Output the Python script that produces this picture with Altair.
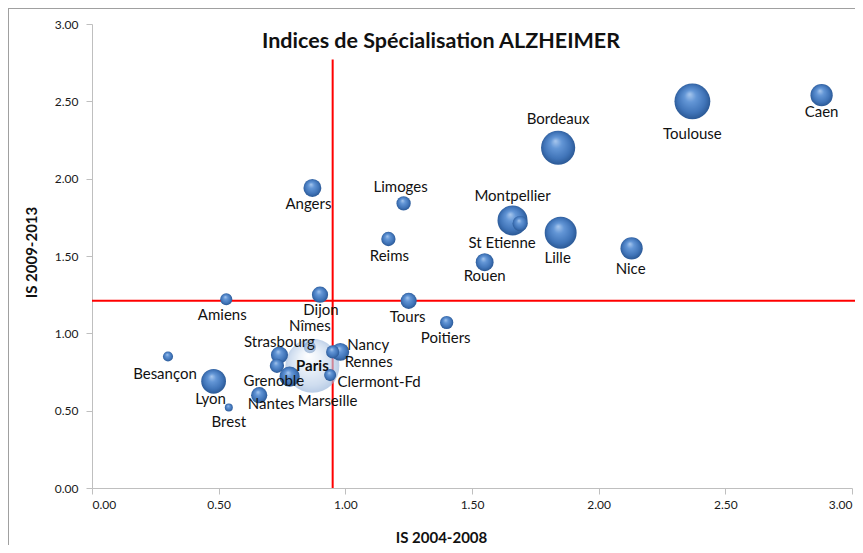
import altair as alt
import pandas as pd

# ---- data ----
cities = ["Caen", "Toulouse", "Bordeaux", "Montpellier", "St Etienne", "Lille", "Nice",
          "Rouen", "Limoges", "Reims", "Angers", "Dijon", "Tours", "Poitiers", "Amiens",
          "Besançon", "Lyon", "Brest", "Nantes", "Nîmes", "Paris", "Strasbourg",
          "Grenoble", "Marseille", "Nancy", "Rennes", "Clermont-Fd"]
is_2004_2008 = [2.88, 2.37, 1.84, 1.66, 1.69, 1.85, 2.13,
                1.55, 1.23, 1.17, 0.87, 0.90, 1.25, 1.40, 0.53,
                0.30, 0.48, 0.54, 0.66, 0.86, 0.87, 0.74,
                0.73, 0.78, 0.98, 0.95, 0.94]
is_2009_2013 = [2.54, 2.50, 2.20, 1.73, 1.71, 1.65, 1.55,
                1.46, 1.84, 1.61, 1.94, 1.25, 1.21, 1.07, 1.22,
                0.85, 0.69, 0.52, 0.60, 0.91, 0.79, 0.86,
                0.79, 0.72, 0.88, 0.88, 0.73]
bubble_size = [17, 44, 40, 31, 8, 35, 17,
               11, 7, 7, 11, 9, 9, 6, 5,
               3.5, 21, 2.2, 9, 5, 100, 10,
               7, 14, 11, 6, 5]

mean_x = 0.95
mean_y = 1.21
vline_top = 2.77
hline_right = 3.04

# label placement (pixel offsets from bubble centre) -- layout only
label_offsets = {
    "Caen": (0, 17), "Toulouse": (0, 33), "Bordeaux": (0, -29), "Montpellier": (0, -24),
    "St Etienne": (-18, 19), "Lille": (-3, 25), "Nice": (-1, 21), "Rouen": (0, 14),
    "Limoges": (-3, -16), "Reims": (1, 17), "Angers": (-4, 16), "Dijon": (1, 15),
    "Tours": (-1, 16), "Poitiers": (-1, 15), "Amiens": (-4, 16), "Besançon": (-3, 17),
    "Lyon": (-3, 18), "Brest": (0, 14), "Nantes": (12, 9), "Nîmes": (0, -21),
    "Paris": (0, 0), "Strasbourg": (0, -13), "Grenoble": (-3, 15), "Marseille": (38, 24),
    "Nancy": (28, -7), "Rennes": (36, 10), "Clermont-Fd": (49, 7),
}

df = pd.DataFrame({"ville": cities, "x": is_2004_2008, "y": is_2009_2013, "taille": bubble_size})
means = pd.DataFrame({"mx": [mean_x], "my": [mean_y], "x0": [0.0], "y0": [0.0],
                      "xt": [hline_right], "yt": [vline_top]})

FONT = "Lato"
W, H = 760, 464

xs = alt.Scale(domain=[0, 3], nice=False, zero=True)
ys = alt.Scale(domain=[0, 3], nice=False, zero=True)
ticks = [0, 0.5, 1, 1.5, 2, 2.5, 3]

x_enc = alt.X("x:Q", scale=xs, axis=alt.Axis(
    values=ticks, format=".2f", title="IS 2004-2008", grid=False,
    titleX=349, titleY=49, titleBaseline="middle", titleAlign="center",
    labelPadding=5, tickSize=6))
y_enc = alt.Y("y:Q", scale=ys, axis=alt.Axis(
    values=ticks, format=".2f", title="IS 2009-2013", grid=False,
    titleX=-61, titleY=228, titleBaseline="middle", titleAlign="center", titleAngle=270,
    labelPadding=8, tickSize=6))
size_enc = alt.Size("taille:Q", scale=alt.Scale(domain=[0, 100], range=[0, 2916]), legend=None)

blue_grad = alt.RadialGradient(
    gradient="radial", x1=0.42, y1=0.3, r1=0.0, x2=0.5, y2=0.5, r2=0.55,
    stops=[alt.GradientStop(color="#a9c8ee", offset=0.0),
           alt.GradientStop(color="#6396d6", offset=0.3),
           alt.GradientStop(color="#4074b8", offset=0.7),
           alt.GradientStop(color="#2c5a97", offset=0.92),
           alt.GradientStop(color="#3d6aa5", offset=1.0)])
paris_grad = alt.RadialGradient(
    gradient="radial", x1=0.42, y1=0.3, r1=0.0, x2=0.5, y2=0.5, r2=0.55,
    stops=[alt.GradientStop(color="#ffffff", offset=0.0),
           alt.GradientStop(color="#e0eaf6", offset=0.35),
           alt.GradientStop(color="#b4cae6", offset=0.75),
           alt.GradientStop(color="#88a8d3", offset=1.0)])

base = alt.Chart(df)
behind = ["Nîmes"]

bub_behind = base.transform_filter(alt.FieldOneOfPredicate(field="ville", oneOf=behind)).mark_circle(
    fill=blue_grad, opacity=1).encode(x=x_enc, y=y_enc, size=size_enc)
bub_paris = base.transform_filter(alt.datum.ville == "Paris").mark_circle(
    fill=paris_grad, opacity=0.65).encode(x=x_enc, y=y_enc, size=size_enc)
bub_rest = base.transform_filter(
    (alt.datum.ville != "Paris") & (alt.datum.ville != "Nîmes")).mark_circle(
    fill=blue_grad, opacity=1).encode(x=x_enc, y=y_enc, size=size_enc)

vline = alt.Chart(means).mark_rule(color="#ff0000", strokeWidth=2).encode(
    x=alt.X("mx:Q", scale=xs), y=alt.Y("y0:Q", scale=ys), y2="yt:Q")
hline = alt.Chart(means).mark_rule(color="#ff0000", strokeWidth=2).encode(
    y=alt.Y("my:Q", scale=ys), x=alt.X("x0:Q", scale=xs), x2="xt:Q")

labels = []
for c in cities:
    dx, dy = label_offsets[c]
    labels.append(base.transform_filter(alt.datum.ville == c).mark_text(
        dx=dx, dy=dy, font=FONT, fontSize=15, color="#111111",
        fontWeight="bold" if c == "Paris" else "normal",
        align="center", baseline="middle").encode(
        x=alt.X("x:Q", scale=xs), y=alt.Y("y:Q", scale=ys), text="ville:N"))

title = alt.Chart(means).mark_text(
    text="Indices de Spécialisation ALZHEIMER", font=FONT, fontSize=21.5, fontWeight="bold",
    color="#111111", align="center", baseline="middle").encode(
    x=alt.value(349), y=alt.value(18))

border_top = alt.Chart(means).mark_rule(color="#a0a0a0", strokeWidth=1).encode(
    x=alt.value(-84), x2=alt.value(763), y=alt.value(-15.5))
border_left = alt.Chart(means).mark_rule(color="#a0a0a0", strokeWidth=1).encode(
    x=alt.value(-83.5), y=alt.value(-16), y2=alt.value(521))

chart = alt.layer(
    border_top, border_left, vline, hline, bub_behind, bub_paris, bub_rest, *labels, title
).properties(
    width=W, height=H,
    autosize=alt.AutoSizeParams(type="none"),
    padding={"left": 84, "top": 16, "right": 3, "bottom": 57},
    background="white",
).configure_view(stroke=None).configure_axis(
    domainColor="#bfbfbf", tickColor="#bfbfbf", labelColor="#1a1a1a",
    labelFont=FONT, labelFontSize=12, titleFont=FONT, titleFontSize=15,
    titleFontWeight="bold", titleColor="#111111",
)

chart.save("out.html", embed_options={"renderer": "svg", "actions": False})
